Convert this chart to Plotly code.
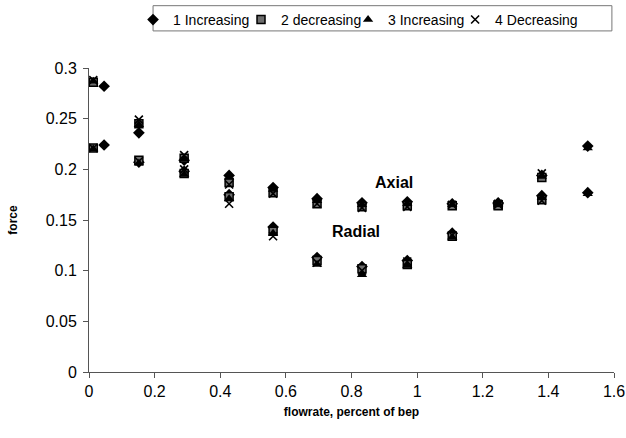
import plotly.graph_objects as go

# flowrate (fraction of BEP) for each series
flow_s1 = [0.046, 0.152, 0.29, 0.427, 0.561, 0.695, 0.832, 0.97, 1.107, 1.247, 1.38, 1.52]
flow_s2 = [0.013, 0.152, 0.29, 0.427, 0.561, 0.695, 0.832, 0.97, 1.107, 1.247, 1.38, None]
flow_s3 = [0.013, 0.152, 0.29, 0.427, 0.561, 0.695, 0.832, 0.97, 1.107, 1.247, 1.38, 1.52]
flow_s4 = [0.013, 0.152, 0.29, 0.427, 0.561, 0.695, 0.832, 0.97, 1.107, 1.247, 1.38, None]

axial_s1 = [0.282, 0.236, 0.209, 0.194, 0.182, 0.171, 0.167, 0.168, 0.166, 0.167, 0.174, 0.177]
axial_s2 = [0.286, 0.245, 0.211, 0.187, 0.177, 0.166, 0.163, 0.164, 0.164, 0.165, 0.170, None]
axial_s3 = [0.287, 0.244, 0.210, 0.192, 0.180, 0.169, 0.165, 0.166, 0.165, 0.166, 0.172, 0.176]
axial_s4 = [0.288, 0.249, 0.214, 0.185, 0.176, 0.166, 0.162, 0.163, 0.165, 0.165, 0.169, None]

radial_s1 = [0.224, 0.207, 0.198, 0.175, 0.143, 0.113, 0.104, 0.110, 0.137, 0.166, 0.194, 0.223]
radial_s2 = [0.221, 0.209, 0.196, 0.173, 0.139, 0.110, 0.102, 0.106, 0.134, 0.164, 0.192, None]
radial_s3 = [0.220, 0.206, 0.195, 0.171, 0.137, 0.106, 0.096, 0.105, 0.133, 0.165, 0.193, 0.221]
radial_s4 = [0.221, 0.208, 0.200, 0.166, 0.134, 0.108, 0.100, 0.109, 0.135, 0.166, 0.196, None]

series_names = ["1 Increasing", "2 decreasing", "3 Increasing", "4 Decreasing"]
x_ticks = [0, 0.2, 0.4, 0.6, 0.8, 1, 1.2, 1.4, 1.6]
x_tick_labels = ["0", "0.2", "0.4", "0.6", "0.8", "1", "1.2", "1.4", "1.6"]
y_ticks = [0, 0.05, 0.1, 0.15, 0.2, 0.25, 0.3]
y_tick_labels = ["0", "0.05", "0.1", "0.15", "0.2", "0.25", "0.3"]

flows = [flow_s1, flow_s2, flow_s3, flow_s4]
axials = [axial_s1, axial_s2, axial_s3, axial_s4]
radials = [radial_s1, radial_s2, radial_s3, radial_s4]

markers = [
    dict(symbol="diamond", size=9, color="black", line=dict(color="black", width=0)),
    dict(symbol="square", size=8, color="#6e6e6e", line=dict(color="black", width=1.5)),
    dict(symbol="triangle-up", size=9, color="black", line=dict(color="black", width=0)),
    dict(symbol="x-thin", size=8, color="black", line=dict(color="black", width=1.6)),
]
legend_ids = ["legend", "legend2", "legend3", "legend4"]
legend_x = [0.2125, 0.385, 0.556, 0.727]

fig = go.Figure()
for name, fx, ax, rd, mk, lg in zip(series_names, flows, axials, radials, markers, legend_ids):
    xs = list(fx) + list(fx)
    ys = ax + rd
    fig.add_trace(go.Scatter(x=xs, y=ys, mode="markers", name=name, marker=mk, legend=lg))

fig.add_annotation(x=0.93, y=0.187, text="<b>Axial</b>", showarrow=False,
                   font=dict(size=16, color="black", family="Liberation Sans, Arial"))
fig.add_annotation(x=0.815, y=0.139, text="<b>Radial</b>", showarrow=False,
                   font=dict(size=16, color="black", family="Liberation Sans, Arial"))

# legend frame
fig.add_shape(type="rect", xref="paper", yref="paper", x0=0.122, x1=0.996, y0=1.122, y1=1.205,
              line=dict(color="#777", width=1), fillcolor="rgba(0,0,0,0)", layer="above")

axis_common = dict(showgrid=False, zeroline=False, showline=True, linecolor="#555",
                   linewidth=1, ticks="outside", ticklen=5, tickcolor="#555",
                   tickfont=dict(size=16, color="black"), automargin=False,
                   ticklabeloverflow="allow")

fig.update_xaxes(range=[0, 1.6], tickvals=x_ticks, ticktext=x_tick_labels,
                 title=dict(text="<b>flowrate, percent of bep</b>", font=dict(size=12, color="black"), standoff=8),
                 **axis_common)
fig.update_yaxes(range=[0, 0.3], tickvals=y_ticks, ticktext=y_tick_labels, ticklabelstandoff=3,
                 title=dict(text="<b>force</b>", font=dict(size=12, color="black"), standoff=25),
                 **axis_common)

legend_common = dict(orientation="h", xref="container", yref="container",
                     y=0.991, yanchor="top", xanchor="left", borderwidth=0,
                     bgcolor="rgba(0,0,0,0)", font=dict(size=14), itemwidth=30,
                     tracegroupgap=0, itemsizing="trace")

fig.update_layout(
    width=626, height=438,
    margin=dict(l=89, r=12, t=68, b=66, autoexpand=False),
    paper_bgcolor="white", plot_bgcolor="white",
    font=dict(family="Liberation Sans, Arial, sans-serif", color="black"),
    showlegend=True,
    legend=dict(x=legend_x[0], **legend_common),
    legend2=dict(x=legend_x[1], **legend_common),
    legend3=dict(x=legend_x[2], **legend_common),
    legend4=dict(x=legend_x[3], **legend_common),
)

# remove the default page margin so the figure fills the window exactly
fig.write_html("out.html",
               config={"displayModeBar": False},
               post_script="document.body.style.margin='0';document.body.style.overflow='hidden';")
